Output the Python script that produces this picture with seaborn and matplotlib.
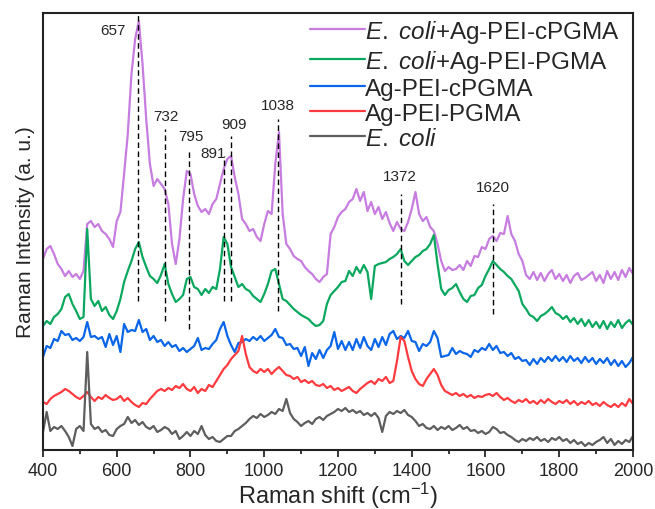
import numpy as np
import pandas as pd
import seaborn as sns
import matplotlib.pyplot as plt
from matplotlib.lines import Line2D

# Raman shift grid (cm-1), one value every 10 cm-1
shift = np.arange(400, 2001, 10)

# intensities (a. u., curves already offset)
ecoli_cpgma = [191, 201, 204, 196, 186, 181, 174, 179, 173, 176, 171, 179, 226, 229, 223, 226, 219, 216, 211, 203,
               229, 238, 276, 316, 376, 411, 429, 386, 331, 286, 264, 271, 266, 261, 246, 206, 186, 211, 251, 279,
               276, 256, 244, 238, 241, 236, 246, 251, 266, 281, 291, 294, 273, 256, 231, 226, 219, 221, 213, 209,
               226, 239, 236, 286, 318, 236, 206, 201, 194, 191, 189, 183, 179, 176, 171, 168, 173, 176, 216, 223,
               233, 238, 241, 248, 251, 261, 249, 258, 239, 248, 236, 243, 231, 238, 227, 219, 228, 221, 219, 228,
               241, 258, 236, 229, 233, 223, 219, 206, 189, 179, 183, 180, 181, 185, 180, 189, 184, 194, 193, 203,
               201, 211, 214, 209, 217, 216, 234, 216, 209, 196, 189, 175, 171, 178, 170, 177, 169, 176, 180, 171,
               176, 169, 175, 167, 174, 177, 170, 172, 175, 178, 169, 175, 167, 179, 171, 178, 170, 180, 173, 182,
               176]
ecoli_pgma = [124, 129, 126, 133, 136, 141, 153, 156, 146, 139, 131, 133, 221, 151, 144, 149, 139, 143, 135, 131,
              139, 151, 168, 179, 189, 201, 208, 193, 183, 174, 171, 167, 175, 186, 166, 156, 148, 151, 155, 171,
              173, 163, 161, 155, 161, 157, 163, 161, 181, 213, 206, 183, 173, 163, 166, 161, 159, 154, 151, 148,
              156, 166, 179, 181, 166, 151, 149, 145, 141, 138, 135, 133, 131, 127, 124, 125, 129, 146, 155, 159,
              163, 168, 169, 179, 174, 183, 177, 185, 178, 151, 184, 186, 187, 188, 191, 193, 196, 201, 189, 185,
              189, 193, 195, 199, 201, 206, 215, 186, 161, 155, 160, 162, 166, 158, 151, 148, 154, 155, 162, 165,
              174, 181, 189, 185, 181, 178, 174, 171, 165, 159, 146, 141, 135, 133, 129, 134, 136, 139, 143, 137,
              135, 131, 134, 128, 132, 126, 131, 124, 130, 123, 128, 122, 129, 121, 128, 123, 130, 122, 127, 130,
              125]
ag_cpgma = [93, 104, 102, 111, 109, 119, 115, 116, 110, 112, 109, 113, 128, 113, 114, 111, 113, 103, 116, 105,
            114, 98, 126, 118, 120, 119, 130, 118, 121, 110, 114, 108, 110, 104, 108, 103, 105, 99, 102, 98,
            101, 104, 112, 100, 102, 101, 106, 110, 121, 128, 114, 105, 98, 107, 108, 111, 109, 113, 110, 114,
            109, 112, 115, 121, 113, 112, 105, 106, 101, 102, 94, 103, 84, 97, 91, 100, 92, 100, 104, 118,
            101, 109, 100, 108, 100, 111, 102, 113, 104, 100, 111, 103, 113, 105, 116, 119, 111, 114, 112, 119,
            109, 108, 99, 106, 104, 108, 119, 112, 93, 94, 95, 102, 96, 99, 97, 96, 93, 100, 98, 102,
            100, 106, 100, 104, 97, 98, 94, 97, 91, 93, 89, 90, 85, 91, 86, 92, 88, 93, 89, 94,
            89, 93, 88, 94, 89, 92, 87, 93, 88, 92, 86, 91, 87, 92, 85, 90, 84, 89, 83, 87,
            93]
ag_pgma = [48, 46, 51, 54, 56, 58, 61, 59, 56, 53, 51, 54, 58, 53, 49, 53, 51, 55, 52, 50,
           51, 54, 49, 52, 48, 45, 43, 47, 46, 51, 55, 59, 61, 59, 62, 60, 64, 62, 66, 61,
           59, 63, 57, 61, 59, 65, 63, 69, 75, 81, 85, 91, 95, 99, 114, 96, 83, 79, 77, 81,
           78, 81, 76, 80, 83, 79, 75, 74, 71, 73, 68, 70, 67, 69, 65, 64, 66, 62, 64, 60,
           62, 59, 61, 63, 59, 57, 61, 64, 67, 69, 66, 71, 69, 73, 67, 69, 89, 113, 109, 93,
           79, 71, 66, 64, 71, 76, 81, 75, 65, 59, 57, 55, 57, 54, 56, 53, 55, 52, 54, 53,
           55, 56, 54, 57, 53, 50, 52, 49, 47, 50, 48, 51, 47, 49, 46, 50, 47, 51, 48, 46,
           49, 47, 50, 46, 49, 45, 48, 46, 49, 45, 47, 44, 48, 45, 43, 46, 43, 47, 44, 51,
           46]
ecoli = [18, 38, 19, 23, 21, 24, 19, 13, 4, 21, 24, 19, 98, 26, 21, 23, 18, 20, 15, 14,
         21, 24, 26, 33, 27, 30, 25, 28, 23, 21, 24, 18, 20, 23, 21, 16, 19, 11, 14, 18,
         14, 19, 16, 24, 15, 11, 13, 9, 8, 11, 14, 14, 19, 21, 24, 27, 31, 34, 32, 36,
         33, 35, 38, 36, 41, 39, 51, 37, 31, 28, 24, 27, 29, 26, 31, 33, 30, 34, 36, 38,
         41, 39, 42, 38, 40, 37, 39, 35, 37, 34, 37, 32, 18, 34, 38, 36, 39, 37, 40, 35,
         33, 29, 24, 26, 22, 21, 24, 20, 23, 21, 24, 20, 22, 25, 21, 23, 19, 20, 17, 19,
         16, 18, 23, 21, 17, 18, 15, 13, 10, 8, 11, 9, 12, 10, 13, 9, 11, 8, 12, 10,
         13, 9, 11, 7, 10, 6, 8, 4, 7, 5, 8, 10, 13, 7, 11, 5, 9, 6, 10, 8,
         14]

labels = [r"$\mathit{E.}$ $\mathit{coli}$+Ag-PEI-cPGMA", r"$\mathit{E.}$ $\mathit{coli}$+Ag-PEI-PGMA",
          "Ag-PEI-cPGMA", "Ag-PEI-PGMA", r"$\mathit{E.}$ $\mathit{coli}$"]
colors = ["#C77CE0", "#0AA85E", "#0A66E8", "#FF3B3F", "#5E5E5E"]

# marked peaks: position, dashed line bottom/top, label position
peak_pos = [657, 732, 795, 891, 909, 1038, 1372, 1620]
line_bottom = [149, 129, 121, 149, 149, 139, 146, 136]
line_top = [437, 321, 299, 294, 314, 331, 256, 246]
text_x = [590, 733, 801, 861, 918, 1038, 1368, 1620]
text_y = [420, 334, 314, 297, 326, 345, 274, 263]

df = pd.concat([pd.DataFrame({"shift": shift, "intensity": vals, "sample": lab})
                for vals, lab in zip([ecoli_cpgma, ecoli_pgma, ag_cpgma, ag_pgma, ecoli], labels)])

sns.set_style("ticks")
plt.rcParams["font.family"] = ["Liberation Sans", "DejaVu Sans"]
plt.rcParams["mathtext.fontset"] = "custom"
plt.rcParams["mathtext.rm"] = "Liberation Sans"
plt.rcParams["mathtext.it"] = "Liberation Sans:italic"

fig = plt.figure(figsize=(6.55, 5.10), dpi=100)
ax = fig.add_axes([0.0656, 0.1157, 0.9008, 0.8568])

palette = dict(zip(labels, colors))
sns.lineplot(data=df, x="shift", y="intensity", hue="sample", hue_order=labels,
             palette=palette, estimator=None, linewidth=1.6, legend=False, ax=ax)

ax.vlines(peak_pos, line_bottom, line_top, colors="black", linestyles=(0, (4, 2.5)), linewidth=1.0)
for tx, ty, p in zip(text_x, text_y, peak_pos):
    ax.text(tx, ty, str(p), ha="center", va="center", fontsize=11)

ax.set_xlim(400, 2000)
ax.set_ylim(0, 437)
ax.set_xticks(np.arange(400, 2001, 200))
ax.set_xticks(np.arange(500, 2000, 200), minor=True)
ax.set_yticks([])
ax.tick_params(axis="x", which="major", direction="out", length=5, width=1.3, labelsize=13)
ax.tick_params(axis="x", which="minor", direction="out", length=3, width=1.3)
for s in ax.spines.values():
    s.set_linewidth(1.5)
    s.set_color("#222222")

ax.set_xlabel("Raman shift (cm$^{-1}$)", fontsize=17, labelpad=1)
ax.set_ylabel("Raman Intensity (a. u.)", fontsize=15, labelpad=6)

handles = [Line2D([], [], color=c, linewidth=1.6) for c in colors]
ax.legend(handles, labels, loc="upper left", bbox_to_anchor=(0.4525, 0.9886), frameon=False,
          fontsize=17.5, handlelength=2.25, handletextpad=0.0, labelspacing=0.12,
          borderpad=0, borderaxespad=0)

plt.savefig("out.png", dpi=100)
